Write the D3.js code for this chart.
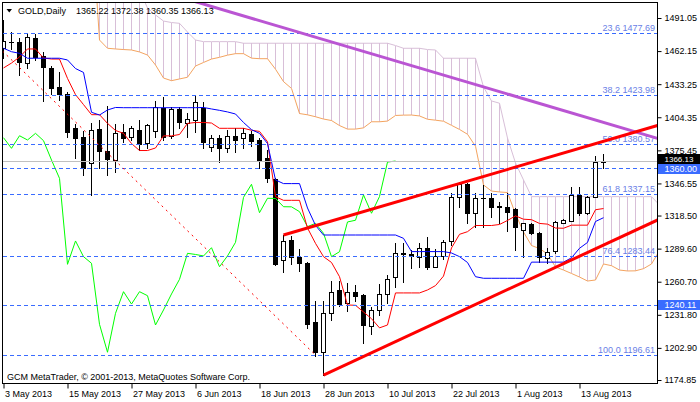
<!DOCTYPE html>
<html><head><meta charset="utf-8">
<script src="https://cdn.jsdelivr.net/npm/d3@7"></script>
<style>
html,body{margin:0;padding:0;background:#fff;}
svg{display:block;}
text{font-family:"Liberation Sans",Arial,sans-serif;}
</style></head><body>
<svg id="c" width="700" height="402"></svg>
<script>
// ---------------- DATA ----------------
const symbolTitle = "GOLD,Daily";
const lastQuote = ["1365.22", "1372.38", "1360.35", "1366.13"];
const copyright = "GCM MetaTrader, \u00A9 2001-2013, MetaQuotes Software Corp.";

const opens = [1464.8,1470.5,1469.8,1451.5,1473.3,1458.1,1447.6,1431.0,1424.4,1395.2,
1387.1,1364.1,1393.8,1374.9,1367.0,1391.2,1387.4,1393.2,1381.6,1392.4,
1412.7,1388.2,1411.6,1399.1,1402.0,1412.2,1378.6,1386.0,1377.2,1388.2,
1386.0,1389.5,1384.5,1368.5,1350.4,1279.4,1297.1,1282.6,1276.8,1225.3,
1199.6,1233.6,1253.5,1242.4,1251.5,1249.1,1222.0,1236.0,1250.0,1264.6,
1285.8,1284.9,1282.0,1289.9,1273.8,1283.2,1296.5,1334.4,1345.8,1321.0,
1333.8,1333.6,1326.4,1326.2,1324.0,1305.9,1311.1,1303.0,1281.2,1287.1,
1312.3,1314.0,1336.5,1320.5,1335.1,1365.22];
const highs = [1489.3,1479.1,1473.3,1476.8,1476.8,1461.6,1449.1,1444.1,1426.4,1398.2,
1392.4,1399.1,1402.0,1414.2,1398.2,1398.2,1397.0,1402.0,1398.2,1418.6,
1422.3,1413.6,1413.6,1407.8,1423.8,1417.9,1388.9,1388.9,1393.2,1394.7,
1394.7,1392.4,1386.0,1375.8,1351.0,1301.5,1300.9,1289.3,1277.7,1243.9,
1243.9,1261.6,1261.3,1259.3,1257.9,1250.0,1238.4,1258.7,1266.6,1294.3,
1294.3,1288.4,1294.3,1299.5,1289.0,1297.1,1338.5,1348.1,1347.2,1338.5,
1345.2,1338.5,1330.6,1337.9,1324.8,1312.3,1312.0,1303.9,1289.9,1314.0,
1315.1,1343.4,1343.4,1336.0,1370.5,1372.38];
const lows = [1456.1,1464.0,1441.3,1447.6,1454.4,1418.6,1424.4,1419.4,1387.4,1369.0,
1353.9,1336.5,1359.8,1353.9,1356.3,1383.0,1384.5,1375.8,1377.2,1387.4,
1384.5,1386.0,1395.2,1387.4,1391.2,1377.2,1374.9,1365.5,1373.8,1373.8,
1377.8,1379.5,1360.3,1348.1,1275.3,1268.9,1275.9,1270.1,1220.5,1196.1,
1179.2,1227.3,1239.5,1235.4,1244.1,1207.4,1215.0,1231.6,1241.9,1256.1,
1260.7,1272.4,1273.8,1271.6,1273.3,1280.3,1292.8,1326.2,1312.3,1308.8,
1308.8,1317.5,1312.3,1305.3,1288.4,1282.6,1302.4,1277.9,1276.8,1285.5,
1312.0,1313.7,1319.0,1319.9,1334.7,1360.35];
const closes = [1471.0,1470.2,1452.4,1474.2,1457.3,1448.5,1430.2,1424.4,1391.7,1386.0,
1359.8,1393.0,1374.9,1367.9,1390.3,1386.0,1394.7,1380.7,1397.6,1413.6,
1387.4,1411.6,1400.0,1402.8,1417.4,1382.5,1386.5,1377.2,1388.2,1384.5,
1390.3,1383.9,1367.0,1351.0,1275.9,1296.3,1282.6,1276.8,1223.5,1199.1,
1233.1,1252.0,1241.2,1252.0,1248.5,1222.9,1236.0,1250.0,1262.8,1285.5,
1284.5,1283.2,1290.4,1273.8,1283.2,1295.1,1334.4,1345.8,1321.0,1333.6,
1333.4,1326.2,1326.1,1321.9,1308.8,1311.7,1303.0,1282.6,1286.9,1312.9,
1314.4,1336.5,1320.5,1335.1,1365.2,1366.13];

// Ichimoku (9, 26, 52)
const tenkan = [1447.4,1451.7,1457.0,1464.0,1464.0,1456.1,1455.2,1455.2,1438.3,1424.1,
1415.4,1406.6,1406.6,1399.0,1392.8,1390.3,1381.4,1375.3,1375.3,1377.5,
1388.1,1388.1,1389.3,1399.0,1399.8,1399.8,1399.3,1394.7,1394.7,1394.7,
1394.7,1393.0,1392.0,1383.0,1335.0,1331.8,1331.8,1331.8,1307.6,1294.2,
1282.6,1277.5,1265.1,1240.4,1240.1,1234.3,1228.4,1220.4,1222.9,1250.9,
1250.9,1250.9,1250.9,1253.5,1257.3,1265.6,1290.2,1302.1,1304.4,1309.8,
1309.8,1309.8,1310.7,1314.2,1318.2,1315.3,1314.9,1311.6,1311.0,1307.6,
1307.4,1310.1,1310.1,1310.1,1323.6,1324.6];
const kijun = [1464.6,1461.6,1460.2,1455.9,1455.9,1455.9,1455.9,1455.9,1454.4,1446.9,
1443.5,1408.7,1406.3,1410.7,1412.9,1412.7,1412.7,1412.7,1412.7,1412.7,
1412.7,1412.7,1412.7,1412.7,1412.7,1412.9,1411.6,1410.4,1409.0,1407.2,
1399.8,1393.5,1390.3,1381.4,1349.6,1346.4,1346.4,1346.4,1325.1,1309.9,
1301.5,1301.5,1301.5,1301.5,1301.5,1301.5,1301.5,1301.5,1301.5,1301.5,
1298.6,1287.0,1287.0,1287.0,1287.0,1287.0,1285.8,1282.6,1277.5,1265.1,
1263.7,1263.7,1263.7,1263.7,1263.7,1263.7,1277.8,1277.8,1277.8,1277.8,
1277.8,1281.6,1289.9,1295.0,1313.3,1316.6];
const spanA = [1585.4,1585.4,1585.4,1585.4,1585.4,1585.4,1585.4,1585.4,1585.4,1585.4,
1585.4,1579.3,1471.8,1464.6,1464.0,1463.5,1463.1,1461.4,1458.7,1450.0,
1438.6,1436.3,1437.8,1439.3,1449.1,1452.2,1455.2,1456.7,1458.6,1459.9,
1459.9,1456.0,1455.5,1455.5,1446.3,1435.5,1429.5,1407.6,1406.5,1404.8,
1402.8,1401.5,1397.1,1394.0,1394.0,1395.1,1400.4,1400.4,1401.0,1405.9,
1406.2,1406.3,1405.5,1402.6,1401.8,1400.9,1397.3,1393.7,1389.5,1379.0,
1345.2,1339.9,1339.1,1338.6,1319.9,1304.1,1292.3,1289.7,1284.9,1273.6,
1270.9,1267.9,1264.8,1261.3,1262.2,1276.2,1274.7,1270.9,1270.1,1270.2,
1272.1,1276.2,1287.8];
const spanB = [1541.7,1541.7,1541.7,1541.7,1541.7,1541.7,1541.7,1541.7,1541.7,1541.7,
1541.7,1541.7,1541.7,1541.7,1541.7,1541.7,1533.0,1515.5,1499.8,1493.7,
1488.4,1487.1,1486.4,1478.8,1471.8,1470.4,1470.4,1470.4,1470.4,1470.4,
1469.0,1469.0,1469.0,1469.0,1469.0,1469.0,1469.0,1469.0,1469.0,1469.0,
1469.0,1469.0,1469.0,1469.0,1469.0,1469.0,1469.0,1469.0,1469.0,1467.0,
1464.6,1464.6,1464.6,1463.5,1463.1,1455.9,1455.9,1455.9,1455.9,1455.9,
1430.8,1418.6,1416.6,1386.2,1364.4,1349.6,1335.0,1335.0,1335.0,1335.0,
1335.0,1335.0,1335.0,1335.0,1335.0,1335.0,1335.0,1335.0,1335.0,1335.0,
1335.0,1335.0,1327.7];
const chikou = [1386.5,1377.2,1388.2,1384.5,1390.3,1383.9,1367.0,1351.0,1275.9,1296.3,
1282.6,1276.8,1223.5,1199.1,1233.1,1252.0,1241.2,1252.0,1248.5,1222.9,
1236.0,1250.0,1262.8,1285.5,1284.5,1283.2,1290.4,1273.8,1283.2,1295.1,
1334.4,1345.8,1321.0,1333.6,1333.4,1326.2,1326.1,1321.9,1308.8,1311.7,
1303.0,1282.6,1286.9,1312.9,1314.4,1336.5,1320.5,1335.1,1365.2,1366.13];

const dateTickBars = [0, 8, 16, 24, 32, 40, 48, 56, 64, 72];
const dateTickLabels = ["3 May 2013","15 May 2013","27 May 2013","6 Jun 2013","18 Jun 2013",
  "28 Jun 2013","10 Jul 2013","22 Jul 2013","1 Aug 2013","13 Aug 2013"];
const priceTicks = [1491.05,1462.15,1433.25,1404.35,1375.45,1346.55,1318.50,1289.60,1260.70,1231.80,1202.90,1174.85];

const fibPercents = ["23.6","38.2","50.0","61.8","76.4","100.0"];
const fibPrices = [1477.69,1423.98,1380.57,1337.15,1283.44,1196.61];
const hLinePrices = [1360.00, 1240.11];
const bidPrice = 1366.13;

// trend objects: [bar, price] anchors
const fibTrend = [[-15.2, 1564.5], [39, 1196.61]];
const purpleTrend = [[29.6, 1493.7], [81.7, 1386.0]];
const channelUpper = [[35, 1301.5], [57, 1346.5]];
const channelLower = [[40, 1179.2], [68, 1270.0]];

// ---------------- DRAW ----------------
const svg = d3.select("#c");
const W = 700, H = 402;
const L = 3, R = 657, T = 3, B = 383;

const x = d3.scaleLinear().domain([0, 81]).range([3.5, 651.5]);
const y = d3.scaleLinear().domain([1174.85, 1491.05]).range([380, 18]);

svg.append("rect").attr("width", W).attr("height", H).attr("fill", "#fff");
svg.append("clipPath").attr("id", "plot").append("rect")
  .attr("x", L).attr("y", T).attr("width", R - L).attr("height", B - T);

const g = svg.append("g").attr("clip-path", "url(#plot)");

const THISTLE = "#D8BFD8", SANDY = "#F4A460", BLUE = "#3a6cff";

// cloud hatch
g.append("g").selectAll("line").data(spanA.map((a, i) => [i, a, spanB[i]])).join("line")
  .attr("x1", d => x(d[0])).attr("x2", d => x(d[0]))
  .attr("y1", d => y(d[1])).attr("y2", d => y(d[2]))
  .attr("stroke", d => d[2] > d[1] ? THISTLE : SANDY).attr("stroke-width", 1)
  .attr("shape-rendering", "crispEdges");

const line = d3.line().x((d, i) => x(i)).y(d => y(d));
function poly(data, color, w) {
  g.append("path").attr("d", line(data)).attr("fill", "none")
    .attr("stroke", color).attr("stroke-width", w || 1);
}
poly(spanB, THISTLE);
poly(spanA, SANDY);

// candles
const cg = g.append("g");
closes.forEach((c, i) => {
  const o = opens[i], cx = x(i);
  cg.append("line").attr("x1", cx).attr("x2", cx)
    .attr("y1", Math.round(y(highs[i]))).attr("y2", Math.round(y(lows[i])) + 1)
    .attr("stroke", "#000").attr("shape-rendering", "crispEdges");
  const top = Math.round(y(Math.max(o, c))), bot = Math.round(y(Math.min(o, c)));
  if (bot - top < 1) {
    cg.append("line").attr("x1", cx - 2.5).attr("x2", cx + 2.5)
      .attr("y1", top + 0.5).attr("y2", top + 0.5).attr("stroke", "#000");
  } else if (c >= o) {
    cg.append("rect").attr("x", cx - 2).attr("y", top + 0.5)
      .attr("width", 4).attr("height", bot - top)
      .attr("fill", "#fff").attr("stroke", "#000").attr("shape-rendering", "crispEdges");
  } else {
    cg.append("rect").attr("x", cx - 2.5).attr("y", top)
      .attr("width", 5).attr("height", bot - top + 1)
      .attr("fill", "#000").attr("shape-rendering", "crispEdges");
  }
});

poly(chikou, "#00FF00");
poly(tenkan, "#FF0000");
poly(kijun, "#0000FF");

// bid line
g.append("line").attr("x1", L).attr("x2", R).attr("y1", Math.round(y(bidPrice)) + 0.5).attr("y2", Math.round(y(bidPrice)) + 0.5)
  .attr("stroke", "#c0c0c0").attr("stroke-width", 1);

// horizontal dashed lines
[...fibPrices, ...hLinePrices].forEach(p => {
  g.append("line").attr("x1", L).attr("x2", R)
    .attr("y1", Math.round(y(p)) + 0.5).attr("y2", Math.round(y(p)) + 0.5)
    .attr("stroke", BLUE).attr("stroke-width", 1).attr("stroke-dasharray", "4,3")
    .attr("shape-rendering", "crispEdges");
});
fibPrices.forEach((p, i) => {
  g.append("text").attr("x", 655).attr("y", Math.round(y(p)) - 2)
    .attr("text-anchor", "end").attr("font-size", 9).attr("fill", "#6a80e6")
    .text(fibPercents[i] + " " + p.toFixed(2));
});

// trend lines
function extend(a, b, b0, b1) {
  const s = (b[1] - a[1]) / (b[0] - a[0]);
  return [[b0, a[1] + (b0 - a[0]) * s], [b1, a[1] + (b1 - a[0]) * s]];
}
const tl = d3.line().x(d => x(d[0])).y(d => y(d[1]));
g.append("path").attr("d", tl(fibTrend)).attr("stroke", "#ff0000").attr("stroke-width", 1)
  .attr("stroke-dasharray", "2,4").attr("fill", "none");
g.append("path").attr("d", tl(extend(purpleTrend[0], purpleTrend[1], 20, 83)))
  .attr("stroke", "#BA55D3").attr("stroke-width", 3).attr("fill", "none");
g.append("path").attr("d", tl(extend(channelUpper[0], channelUpper[1], 35, 83)))
  .attr("stroke", "#FF0000").attr("stroke-width", 3).attr("fill", "none");
g.append("path").attr("d", tl(extend(channelLower[0], channelLower[1], 40, 83)))
  .attr("stroke", "#FF0000").attr("stroke-width", 3).attr("fill", "none");

// frame
svg.append("rect").attr("x", 2.5).attr("y", 2.5).attr("width", 655).attr("height", 381)
  .attr("fill", "none").attr("stroke", "#000");

// right axis
const ay = svg.append("g").attr("transform", "translate(657.5,0)")
  .call(d3.axisRight(y).tickValues(priceTicks).tickSize(4).tickPadding(3)
    .tickFormat(d => d.toFixed(2)));
ay.select(".domain").remove();
ay.selectAll("text").attr("font-size", 9).attr("font-family", "Liberation Sans, Arial, sans-serif").attr("fill", "#000");
ay.selectAll("line").attr("stroke", "#000");

// bottom axis
const ax = svg.append("g").attr("transform", "translate(0,383.5)")
  .call(d3.axisBottom(x).tickValues(dateTickBars).tickSize(5).tickPadding(2)
    .tickFormat((d, i) => dateTickLabels[i]));
ax.select(".domain").remove();
ax.selectAll("text").attr("font-size", 9).attr("font-family", "Liberation Sans, Arial, sans-serif")
  .attr("fill", "#000").attr("text-anchor", "start").attr("x", 1);
ax.selectAll("line").attr("stroke", "#000");

// price boxes (bid box above, line-label boxes on top)
function box(p, fill, dy, fs) {
  const cy = Math.round(y(p)) + dy;
  svg.append("rect").attr("x", 658).attr("y", cy - 5).attr("width", 42).attr("height", 10).attr("fill", fill);
  svg.append("text").attr("x", 664.5).attr("y", cy + 3.2).attr("font-size", fs)
    .attr("fill", "#fff").text(p.toFixed(2));
}
box(bidPrice, "#000", -2, 8);
box(hLinePrices[0], BLUE, 1, 9);
box(hLinePrices[1], BLUE, 0, 9);

// title
svg.append("path").attr("d", "M6.5,9 L12,9 L9.25,12.5 Z").attr("fill", "#000");
svg.append("text").attr("x", 18).attr("y", 14).attr("font-size", 9).attr("fill", "#000").text(symbolTitle);
svg.append("text").attr("x", 76).attr("y", 14).attr("font-size", 9).attr("fill", "#000").text(lastQuote.join(" "));
svg.append("text").attr("x", 7).attr("y", 380).attr("font-size", 9).attr("fill", "#000").text(copyright);
</script>
</body></html>
